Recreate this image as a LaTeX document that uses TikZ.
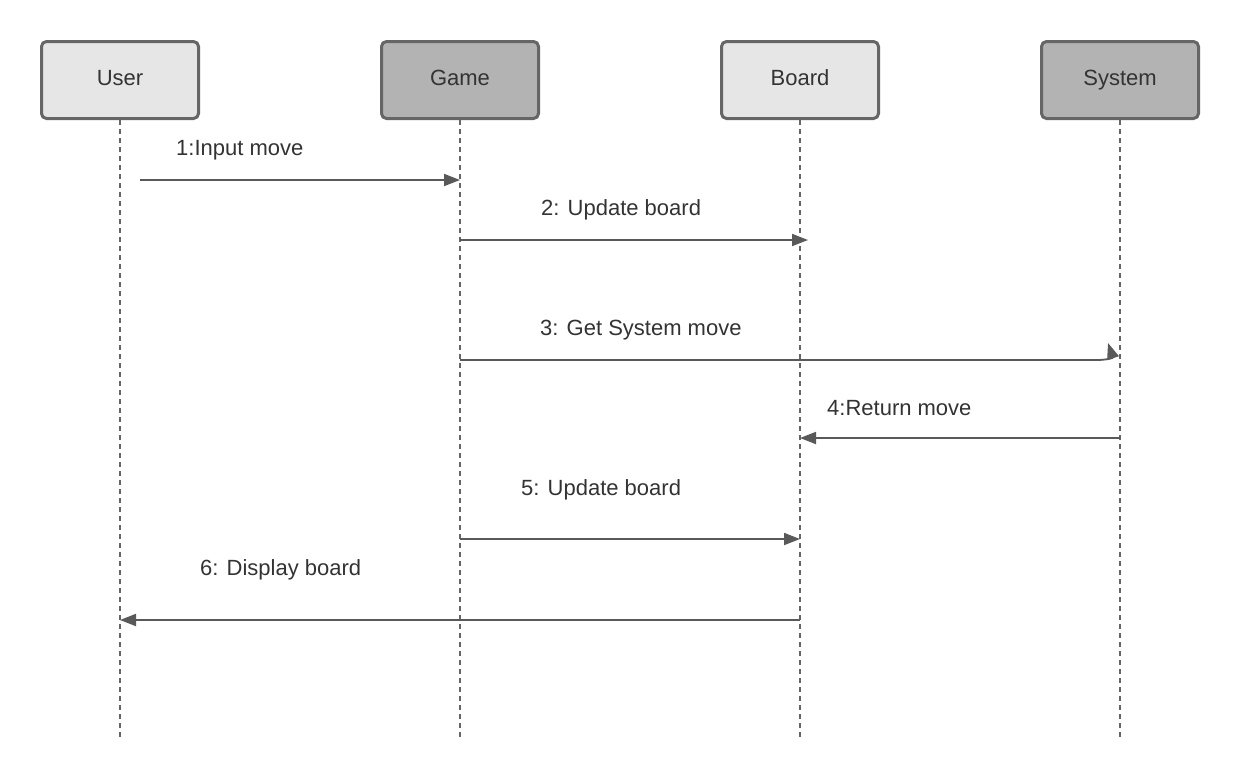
\documentclass[tikz,border=0pt]{standalone}
\usepackage{fontspec}
\setmainfont{Liberation Sans}
\usetikzlibrary{arrows.meta}
\definecolor{boxlight}{HTML}{E6E6E6}
\definecolor{boxdark}{HTML}{B3B3B3}
\definecolor{boxborder}{HTML}{666666}
\definecolor{msgline}{HTML}{595959}
\definecolor{txt}{HTML}{333333}
\begin{document}
\begin{tikzpicture}[x=1pt,y=-1pt,
  actor/.style={draw=boxborder, line width=3pt, rounded corners=5pt,
    minimum width=157pt, minimum height=77pt, inner sep=0pt,
    text height=15pt, text depth=5pt,
    font=\fontsize{22}{26}\selectfont, text=txt},
  light/.style={actor, fill=boxlight},
  dark/.style={actor, fill=boxdark},
  lifeline/.style={draw=boxborder, line width=1.6pt, dash pattern=on 5pt off 4pt},
  msg/.style={draw=msgline, line width=1.8pt, -{Triangle[length=16pt,width=12pt]}},
  lbl/.style={font=\fontsize{22}{26}\selectfont, text=txt, inner sep=0pt}]
\useasboundingbox (0,0) rectangle (1240,780);
\fill[white] (0,0) rectangle (1240,780);
% lifeline ends
\coordinate (uE) at (120,740);
\coordinate (gE) at (460,740);
\coordinate (bE) at (800,740);
\coordinate (sE) at (1120,740);
% lifelines
\draw[lifeline] (120,120) -- (uE);
\draw[lifeline] (460,120) -- (gE);
\draw[lifeline] (800,120) -- (bE);
\draw[lifeline] (1120,120) -- (sE);
% actors
\node[light] (user) at (120,80) {User};
\node[dark] (game) at (460,80) {Game};
\node[light] (board) at (800,80) {Board};
\node[dark] (system) at (1120,80) {System};
% message points
\coordinate (m1s) at (140,180);
\coordinate (m1e) at (460,180);
\coordinate (m2s) at (460,240);
\coordinate (m2e) at (808,240);
\coordinate (m3s) at (460,360);
\coordinate (m3a) at (1097,360);
\coordinate (m3e) at (1108,343);
\coordinate (m4s) at (1120,438);
\coordinate (m4e) at (800,438);
\coordinate (m5s) at (460,539);
\coordinate (m5e) at (800,539);
\coordinate (m6s) at (800,620);
\coordinate (m6e) at (120,620);
% messages
\draw[msg] (m1s) -- (m1e);
\draw[msg] (m2s) -- (m2e);
\draw[msg] (m3s) -- (m3a) .. controls (1106,360) and (1113,358) .. (m3e);
\draw[msg] (m4s) -- (m4e);
\draw[msg] (m5s) -- (m5e);
\draw[msg] (m6s) -- (m6e);
% labels
\node[lbl, anchor=base west] (l1) at (176,155) {1:Input move};
\node[lbl, anchor=base west] (l2) at (541,215) {2: Update board};
\node[lbl, anchor=base west] (l3) at (540,335) {3: Get System move};
\node[lbl, anchor=base west] (l4) at (827,415) {4:Return move};
\node[lbl, anchor=base west] (l5) at (521,495) {5: Update board};
\node[lbl, anchor=base west] (l6) at (200,575) {6: Display board};
\end{tikzpicture}
\end{document}
